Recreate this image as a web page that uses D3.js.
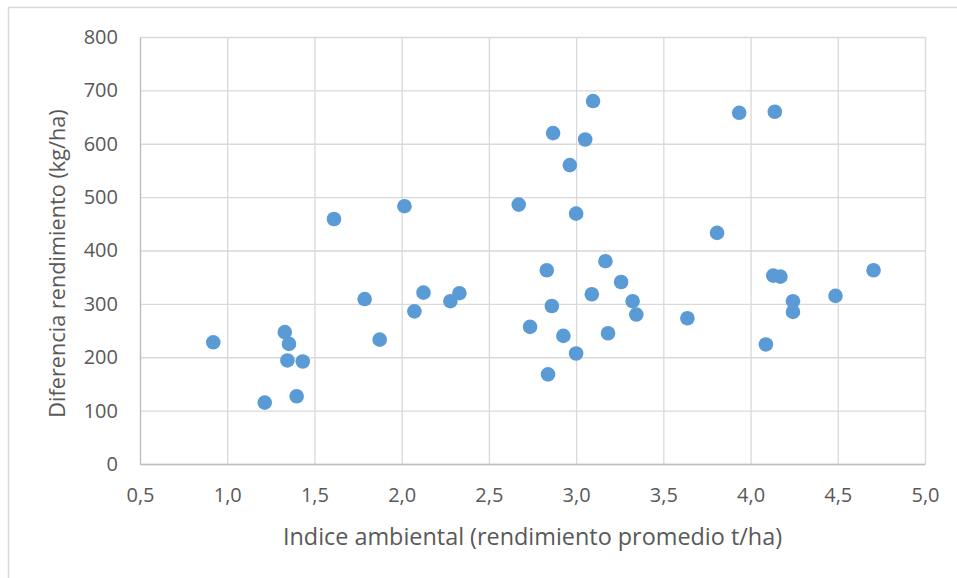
<!DOCTYPE html>
<html>
<head>
<meta charset="utf-8">
<script src="https://cdn.jsdelivr.net/npm/d3@7"></script>
<style>
  body { margin: 0; background: #fff; }
  svg text { font-family: "Open Sans", sans-serif; fill: #595959; }
</style>
</head>
<body>
<div class="canvas"></div>
<script>
// data
const indiceAmbiental = [
  0.92, 1.215, 1.33, 1.354, 1.345, 1.433, 1.398, 1.612, 1.788, 1.874,
  2.016, 2.073, 2.125, 2.279, 2.331, 2.671, 2.736, 2.832, 2.839, 2.861,
  2.868, 2.927, 2.964, 3.0, 3.0, 3.052, 3.09, 3.097, 3.168, 3.183,
  3.258, 3.324, 3.345, 3.638, 3.808, 3.935, 4.088, 4.130, 4.139, 4.171,
  4.243, 4.243, 4.487, 4.705
];
const diferenciaRend = [
  228, 115, 247, 225, 194, 192, 127, 459, 309, 233,
  483, 286, 321, 305, 320, 486, 257, 363, 168, 296,
  620, 240, 560, 469, 207, 608, 318, 680, 380, 245,
  341, 305, 280, 273, 433, 658, 224, 353, 660, 351,
  305, 285, 315, 363
];
const xTicks = [0.5, 1.0, 1.5, 2.0, 2.5, 3.0, 3.5, 4.0, 4.5, 5.0];
const yTicks = [0, 100, 200, 300, 400, 500, 600, 700, 800];
const xTitle = 'Indice ambiental (rendimiento promedio t/ha)';
const yTitle = 'Diferencia rendimiento (kg/ha)';

const W = 957, H = 578;
const margin = {top: 37, right: 32, bottom: 114, left: 140};
const innerW = W - margin.left - margin.right;
const innerH = H - margin.top - margin.bottom;

const svg = d3.select('.canvas')
  .append('svg')
    .attr('width', W)
    .attr('height', H);

// chart frame (only top and left edges show in the crop)
svg.append('rect')
  .attr('x', 8.5).attr('y', 7.5)
  .attr('width', 1000).attr('height', 1000)
  .attr('fill', 'none')
  .attr('stroke', '#D9D9D9')
  .attr('stroke-width', 1.5);

const graph = svg.append('g')
  .attr('transform', `translate(${margin.left}, ${margin.top})`);

const x = d3.scaleLinear().domain([0.5, 5.0]).range([0, innerW]);
const y = d3.scaleLinear().domain([0, 800]).range([innerH, 0]);

const fmt = d => d3.format('.1f')(d).replace('.', ',');

// gridlines
graph.append('g')
  .attr('transform', `translate(0, ${innerH})`)
  .call(d3.axisBottom(x).tickValues(xTicks).tickSize(-innerH).tickFormat(''))
  .call(g => g.select('.domain').remove())
  .call(g => g.selectAll('line').attr('stroke', '#D9D9D9').attr('stroke-width', 1.3));

graph.append('g')
  .call(d3.axisLeft(y).tickValues(yTicks).tickSize(-innerW).tickFormat(''))
  .call(g => g.select('.domain').remove())
  .call(g => g.selectAll('line').attr('stroke', '#D9D9D9').attr('stroke-width', 1.3));

// axes with labels
graph.append('g')
  .attr('transform', `translate(0, ${innerH})`)
  .call(d3.axisBottom(x).tickValues(xTicks).tickSize(0).tickPadding(24).tickFormat(fmt))
  .call(g => g.select('.domain').attr('stroke', '#BFBFBF').attr('stroke-width', 1.3))
  .call(g => g.selectAll('text').style('font-size', '20px'));

graph.append('g')
  .call(d3.axisLeft(y).tickValues(yTicks).tickSize(0).tickPadding(22))
  .call(g => g.select('.domain').attr('stroke', '#BFBFBF').attr('stroke-width', 1.3))
  .call(g => g.selectAll('text').style('font-size', '20px'));

// points
graph.append('g')
  .selectAll('circle')
  .data(indiceAmbiental.map((v, i) => [v, diferenciaRend[i]]))
  .enter()
  .append('circle')
    .attr('cx', d => x(d[0]))
    .attr('cy', d => y(d[1]))
    .attr('r', 7.3)
    .attr('fill', '#5B9BD5');

// axis titles
svg.append('text')
  .attr('x', margin.left + innerW / 2)
  .attr('y', 545)
  .attr('text-anchor', 'middle')
  .style('font-size', '23.4px')
  .text(xTitle);

svg.append('text')
  .attr('transform', `translate(65, ${margin.top + innerH / 2 + 13}) rotate(-90)`)
  .attr('text-anchor', 'middle')
  .style('font-size', '21.7px')
  .text(yTitle);
</script>
</body>
</html>
